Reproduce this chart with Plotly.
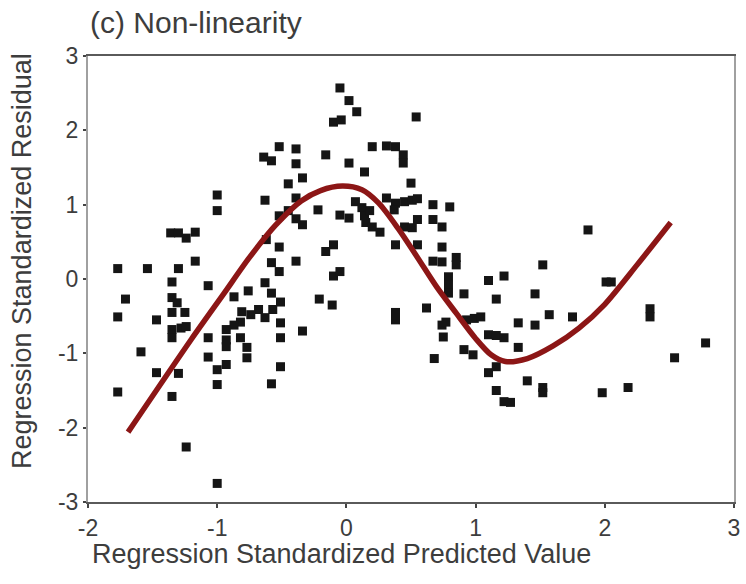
import plotly.graph_objects as go

# Standardized predicted values (x) and standardized residuals (y)
pred = [
    -0.05, 0.02, 0.08, -0.10, -0.04, 0.54, -0.52, -0.39, -0.64, -0.58,
    -0.39, -0.16, 0.02, 0.20, 0.31, 0.38, 0.44, 0.44, 0.14, -0.34,
    -0.45, 0.50, -1.00, -1.00, -0.63, -0.39, -0.52, -0.45, -0.39, -0.34,
    -0.22, -0.05, 0.02, 0.07, 0.12, 0.14, 0.18, 0.15, 0.20, 0.26,
    0.31, 0.38, 0.37, 0.45, 0.51, 0.45, 0.51, 0.38, 0.55, 0.67,
    0.80, 0.55, 0.67, 0.74, 0.55, 0.74, 0.67, 0.74, 0.85, 0.85,
    0.79, 0.79, 0.79, 0.91, 1.10, 1.22, 1.16, 1.46, 1.52, 1.87,
    2.01, 2.05, -1.36, -1.30, -1.24, -1.17, -0.62, -0.52, -0.16, -0.10,
    -0.39, -1.17, -1.77, -1.54, -1.30, -0.58, -0.52, -0.10, -0.05, -1.35,
    -1.07, -1.71, -1.77, -1.47, -1.35, -1.31, -1.25, -1.35, -1.35, -1.35,
    -1.28, -1.24, -1.30, -1.35, -0.87, -0.76, -0.63, -0.58, -0.51, -0.57,
    -0.63, -0.68, -0.74, -0.81, -0.82, -0.87, -0.93, -0.93, -0.93, -0.82,
    -0.77, -0.77, -1.07, -1.07, -1.00, -0.93, -1.00, -0.51, -0.51, -0.51,
    -0.58, -0.21, -0.11, -0.34, 0.38, 0.38, -1.59, -1.47, -1.77, -1.24,
    -1.00, 0.62, 0.74, 0.75, 0.77, 0.93, 0.99, 1.04, 1.33, 1.46,
    1.57, 1.75, 2.35, 2.35, 1.10, 1.16, 1.22, 1.33, 0.91, 0.98,
    0.68, 1.10, 1.16, 1.40, 1.52, 1.52, 1.16, 1.22, 1.27, 1.98,
    2.18, 2.54, 2.78,
]
resid = [
    2.57, 2.40, 2.25, 2.11, 2.14, 2.18, 1.78, 1.75, 1.64, 1.59,
    1.55, 1.67, 1.56, 1.78, 1.79, 1.78, 1.67, 1.56, 1.44, 1.36,
    1.28, 1.29, 1.13, 0.92, 1.06, 1.09, 0.85, 0.92, 0.81, 0.73,
    0.93, 0.86, 0.82, 1.04, 0.96, 0.85, 0.92, 0.76, 0.70, 0.63,
    1.09, 1.02, 0.93, 1.04, 1.06, 0.70, 0.69, 0.46, 1.08, 1.00,
    0.97, 0.80, 0.80, 0.70, 0.46, 0.43, 0.24, 0.23, 0.29, 0.19,
    0.03, -0.08, -0.19, -0.20, -0.02, 0.04, -0.27, -0.20, 0.19, 0.66,
    -0.04, -0.04, 0.62, 0.62, 0.55, 0.63, 0.53, 0.43, 0.37, 0.46,
    0.24, 0.24, 0.14, 0.14, 0.14, 0.22, 0.10, 0.04, 0.10, -0.04,
    -0.09, -0.27, -0.51, -0.55, -0.25, -0.32, -0.45, -0.45, -0.68, -0.79,
    -0.66, -0.64, -1.27, -1.58, -0.24, -0.16, -0.05, -0.19, -0.31, -0.41,
    -0.52, -0.41, -0.48, -0.44, -0.58, -0.62, -0.68, -0.82, -0.91, -0.79,
    -0.92, -1.06, -0.79, -1.05, -1.22, -1.15, -1.42, -0.59, -0.79, -1.18,
    -1.41, -0.27, -0.35, -0.70, -0.45, -0.55, -0.98, -1.26, -1.52, -2.26,
    -2.75, -0.39, -0.62, -0.78, -0.58, -0.55, -0.53, -0.51, -0.59, -0.62,
    -0.48, -0.51, -0.40, -0.51, -0.75, -0.76, -0.79, -0.92, -0.95, -1.02,
    -1.07, -1.26, -1.18, -1.37, -1.46, -1.53, -1.50, -1.65, -1.66, -1.53,
    -1.46, -1.06, -0.86,
]

# Smoothed trend through the residuals
fit_x = [-1.69, -1.20, -0.95, -0.75, -0.55, -0.35, -0.20, -0.03, 0.12, 0.25,
         0.40, 0.55, 0.70, 0.85, 1.00, 1.12, 1.23, 1.40, 1.60, 1.80,
         2.00, 2.25, 2.51]
fit_y = [-2.06, -0.81, -0.20, 0.29, 0.72, 1.05, 1.19, 1.25, 1.20, 1.02,
         0.68, 0.29, -0.11, -0.46, -0.80, -1.02, -1.11, -1.07, -0.90, -0.66,
         -0.34, 0.19, 0.76]

x_ticks = [-2, -1, 0, 1, 2, 3]
x_tick_text = ["-2", "-1", "0", "1", "2", "3"]
y_ticks = [-3, -2, -1, 0, 1, 2, 3]
y_tick_text = ["-3", "-2", "-1", "0", "1", "2", "3"]

FONT = "Arial, Liberation Sans, sans-serif"
TEXT = "#3d3d3d"

fig = go.Figure()
fig.add_trace(go.Scatter(
    x=pred, y=resid, mode="markers",
    marker=dict(symbol="square", size=9, color="#151515", line=dict(width=0)),
    showlegend=False, hoverinfo="x+y",
))
fig.add_trace(go.Scatter(
    x=fit_x, y=fit_y, mode="lines",
    line=dict(color="#8c1616", width=5.5, shape="spline", smoothing=0.8),
    showlegend=False, hoverinfo="skip",
))

fig.update_layout(
    width=746, height=584,
    margin=dict(l=88, r=6, t=56, b=82),
    paper_bgcolor="white", plot_bgcolor="white",
    font=dict(family=FONT, color=TEXT),
    title=dict(
        text="(c) Non-linearity", x=90 / 746, xanchor="left", xref="container",
        y=1 - 22 / 584, yanchor="middle", yref="container",
        font=dict(size=30, color=TEXT, family=FONT),
    ),
    xaxis=dict(
        range=[-2, 3], tickvals=x_ticks, ticktext=x_tick_text,
        showgrid=False, zeroline=False,
        showline=True, linecolor="#5a5a5a", linewidth=2, mirror=True,
        ticks="outside", ticklen=4, tickcolor="#444", tickwidth=2,
        tickfont=dict(size=23, color=TEXT),
    ),
    yaxis=dict(
        range=[-3, 3], tickvals=y_ticks, ticktext=y_tick_text,
        showgrid=False, zeroline=False,
        showline=True, linecolor="#a0a0a0", linewidth=2, mirror=True,
        ticks="outside", ticklen=3, tickcolor="#444", tickwidth=2,
        tickfont=dict(size=23, color=TEXT),
    ),
    annotations=[
        dict(text="Regression Standardized Predicted Value",
             xref="paper", yref="paper", x=0, y=0, xanchor="left", yanchor="middle",
             xshift=2, yshift=-52, showarrow=False,
             font=dict(size=27, color=TEXT, family=FONT)),
        dict(text="Regression Standardized Residual",
             xref="paper", yref="paper", x=0, y=0.5, xanchor="center", yanchor="middle",
             xshift=-66, yshift=18, textangle=-90, showarrow=False,
             font=dict(size=27, color=TEXT, family=FONT)),
    ],
)

fig.write_html("out.html")
